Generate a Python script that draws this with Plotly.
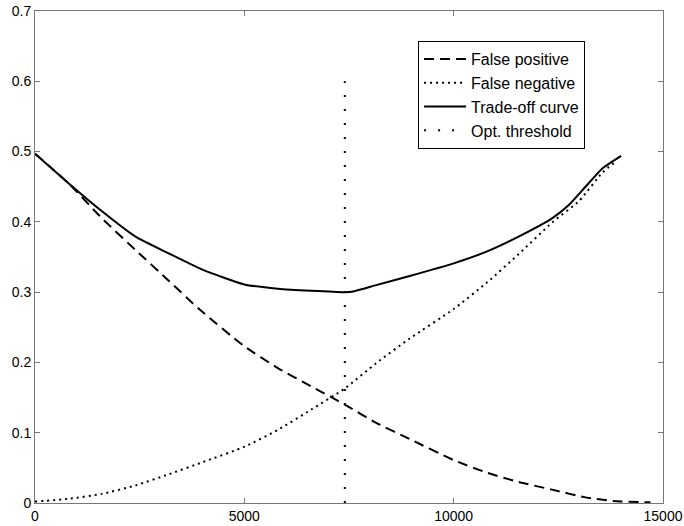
import plotly.graph_objects as go

# Trade-off curve
tradeoff_x = [0, 800, 1600, 2400, 3200, 4000, 5000, 5800, 6600, 7400, 7600, 8150, 8950,
              10000, 10800, 11550, 12350, 12750, 13150, 13550, 14000]
tradeoff_y = [0.497, 0.455, 0.415, 0.379, 0.355, 0.332, 0.311, 0.305, 0.302, 0.300, 0.301,
              0.310, 0.323, 0.341, 0.358, 0.379, 0.405, 0.424, 0.450, 0.476, 0.494]

# False positive
fp_x = [0, 800, 1600, 2400, 3200, 3900, 5000, 5800, 6600, 7400, 8150, 8950, 10000,
        10800, 11550, 12350, 13150, 13800, 14700]
fp_y = [0.497, 0.455, 0.405, 0.360, 0.316, 0.277, 0.223, 0.192, 0.166, 0.140, 0.114,
        0.091, 0.061, 0.043, 0.030, 0.019, 0.008, 0.003, 0.001]

# False negative
fn_x = [0, 800, 1600, 2400, 3200, 4000, 5000, 5800, 6600, 7400, 8150, 8950, 10000,
        10800, 11550, 12350, 13000, 13550, 13900]
fn_y = [0.002, 0.006, 0.013, 0.025, 0.041, 0.058, 0.080, 0.104, 0.133, 0.163, 0.199,
        0.234, 0.276, 0.314, 0.354, 0.399, 0.430, 0.470, 0.487]

# Optimal threshold
thr_x = [7400, 7400]
thr_y = [0.0, 0.6]

x_ticks = [0, 5000, 10000, 15000]
y_ticks = [0, 0.1, 0.2, 0.3, 0.4, 0.5, 0.6, 0.7]

FONT = "Liberation Sans, Arial, Helvetica, sans-serif"

fig = go.Figure()
fig.add_trace(go.Scatter(x=fp_x, y=fp_y, mode="lines", name="False positive",
                         line=dict(color="black", width=2, dash="10px,6px",
                                   shape="spline", smoothing=0.6)))
fig.add_trace(go.Scatter(x=fn_x, y=fn_y, mode="lines", name="False negative",
                         line=dict(color="black", width=2, dash="2px,4px",
                                   shape="spline", smoothing=0.6)))
fig.add_trace(go.Scatter(x=tradeoff_x, y=tradeoff_y, mode="lines", name="Trade-off curve",
                         line=dict(color="black", width=2, shape="spline", smoothing=0.5)))
fig.add_trace(go.Scatter(x=thr_x, y=thr_y, mode="lines", name="Opt. threshold",
                         line=dict(color="black", width=2, dash="2px,12px")))

axis_common = dict(showgrid=False, zeroline=False, showline=True, linecolor="#777",
                   linewidth=1, mirror="ticks", ticks="inside", ticklen=5,
                   tickcolor="#777", automargin=False, ticklabeloverflow="allow",
                   tickfont=dict(family=FONT, size=14, color="black"))

fig.update_layout(
    width=684, height=526,
    margin=dict(l=35, r=21, t=11, b=23),
    paper_bgcolor="white", plot_bgcolor="white",
    font=dict(family=FONT, size=14, color="black"),
    xaxis=dict(range=[0, 15000], tickvals=x_ticks, ticktext=[str(v) for v in x_ticks],
               **axis_common),
    yaxis=dict(range=[0, 0.7], tickvals=y_ticks, ticktext=[("%g" % v) for v in y_ticks],
               **axis_common),
    legend=dict(x=0.61, y=0.939, xanchor="left", yanchor="top",
                bgcolor="white", bordercolor="black", borderwidth=1,
                font=dict(family=FONT, size=16, color="black"),
                itemwidth=42, tracegroupgap=0),
    showlegend=True,
)

fig.write_html("out.html")
